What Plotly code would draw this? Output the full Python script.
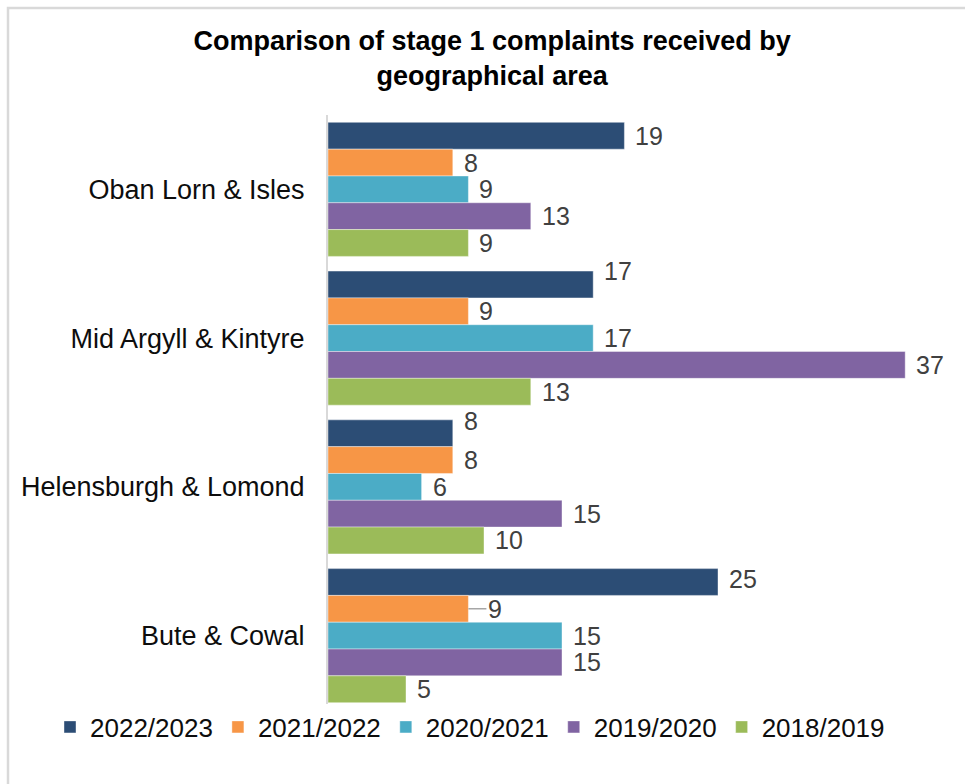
import plotly.graph_objects as go

# Complaint counts by area and reporting year
areas = ["Oban Lorn & Isles", "Mid Argyll & Kintyre", "Helensburgh & Lomond", "Bute & Cowal"]
years = ["2022/2023", "2021/2022", "2020/2021", "2019/2020", "2018/2019"]
v_2022_23 = [19, 17, 8, 25]
v_2021_22 = [8, 9, 8, 9]
v_2020_21 = [9, 17, 6, 15]
v_2019_20 = [13, 37, 15, 15]
v_2018_19 = [9, 13, 10, 5]
series = [v_2022_23, v_2021_22, v_2020_21, v_2019_20, v_2018_19]
colors = ["#2C4D75", "#F79646", "#4BACC6", "#8064A2", "#9BBB59"]

# Label tweaks: (year index, area index) -> (x shift, y shift, leader line)
label_nudge = {(0, 1): (0, 14, False), (0, 2): (0, 12, False), (0, 3): (0, 3, False),
               (1, 3): (10, 0, True)}

W, H = 965, 784
L, R, T, B = 328, 13, 115, 74
plot_w = W - L - R
plot_h = H - T - B
bargap = 0.099
n = len(years)
band = plot_h / len(areas)
bar_px = band * (1 - bargap) / n

fig = go.Figure()
for i, (name, vals) in enumerate(zip(years, series)):
    fig.add_trace(go.Bar(
        y=areas, x=vals, name=name, orientation="h",
        marker=dict(color=colors[i], line=dict(color="rgba(255,255,255,0.5)", width=0.8)),
        hoverinfo="x+name",
    ))

annotations = []
for i, vals in enumerate(series):
    for j, v in enumerate(vals):
        dx, dy, leader = label_nudge.get((i, j), (0, 0, False))
        base_dy = (n / 2 - 0.5 - i) * bar_px
        if leader:
            annotations.append(dict(
                x=v, y=areas[j], xref="x", yref="y", text=str(v),
                showarrow=True, arrowhead=0, arrowwidth=1.5, arrowcolor="#A6A6A6",
                ax=dx + 8, ay=0, xanchor="left", standoff=0,
                yshift=base_dy + dy,
                font=dict(size=25, color="#404040"),
            ))
        else:
            annotations.append(dict(
                x=v, y=areas[j], xref="x", yref="y", text=str(v),
                showarrow=False, xanchor="left", yanchor="middle",
                xshift=9 + dx, yshift=base_dy + dy,
                font=dict(size=25, color="#404040"),
            ))

# light frame around the chart area
fx0 = (8 - L) / plot_w
fy1 = 1 + (T - 8) / plot_h
fig.add_shape(type="rect", xref="paper", yref="paper",
              x0=fx0, x1=1.2, y0=-0.3, y1=fy1,
              line=dict(color="#D9D9D9", width=2.5), fillcolor="rgba(0,0,0,0)", layer="below")

fig.update_layout(
    width=W, height=H,
    margin=dict(l=L, r=R, t=T, b=B, pad=0),
    paper_bgcolor="white", plot_bgcolor="white",
    font=dict(family="Liberation Sans, Arial, sans-serif", color="#000000"),
    barmode="group", bargap=bargap, bargroupgap=0,
    title=dict(
        text="<b>Comparison of stage 1 complaints received by<br>geographical area</b>",
        x=0.51, xanchor="center", xref="container",
        y=1 - 50 / H, yanchor="top", yref="container",
        font=dict(size=27, color="#000000"),
    ),
    xaxis=dict(range=[0, 40], showgrid=False, showticklabels=False, zeroline=False,
               showline=False, ticks=""),
    yaxis=dict(autorange="reversed", categoryorder="array", categoryarray=areas,
               showgrid=False, showline=True, linecolor="#D9D9D9", linewidth=2,
               ticks="", ticklabelstandoff=16,
               tickfont=dict(size=27, color="#0D0D0D")),
    legend=dict(orientation="h", x=(50 - L) / plot_w, xanchor="left",
                y=-(727 - (H - B)) / plot_h, yanchor="middle",
                font=dict(size=26, color="#0D0D0D"), itemwidth=30,
                traceorder="normal"),
    annotations=annotations,
    showlegend=True,
)

fig.write_html("out.html")
